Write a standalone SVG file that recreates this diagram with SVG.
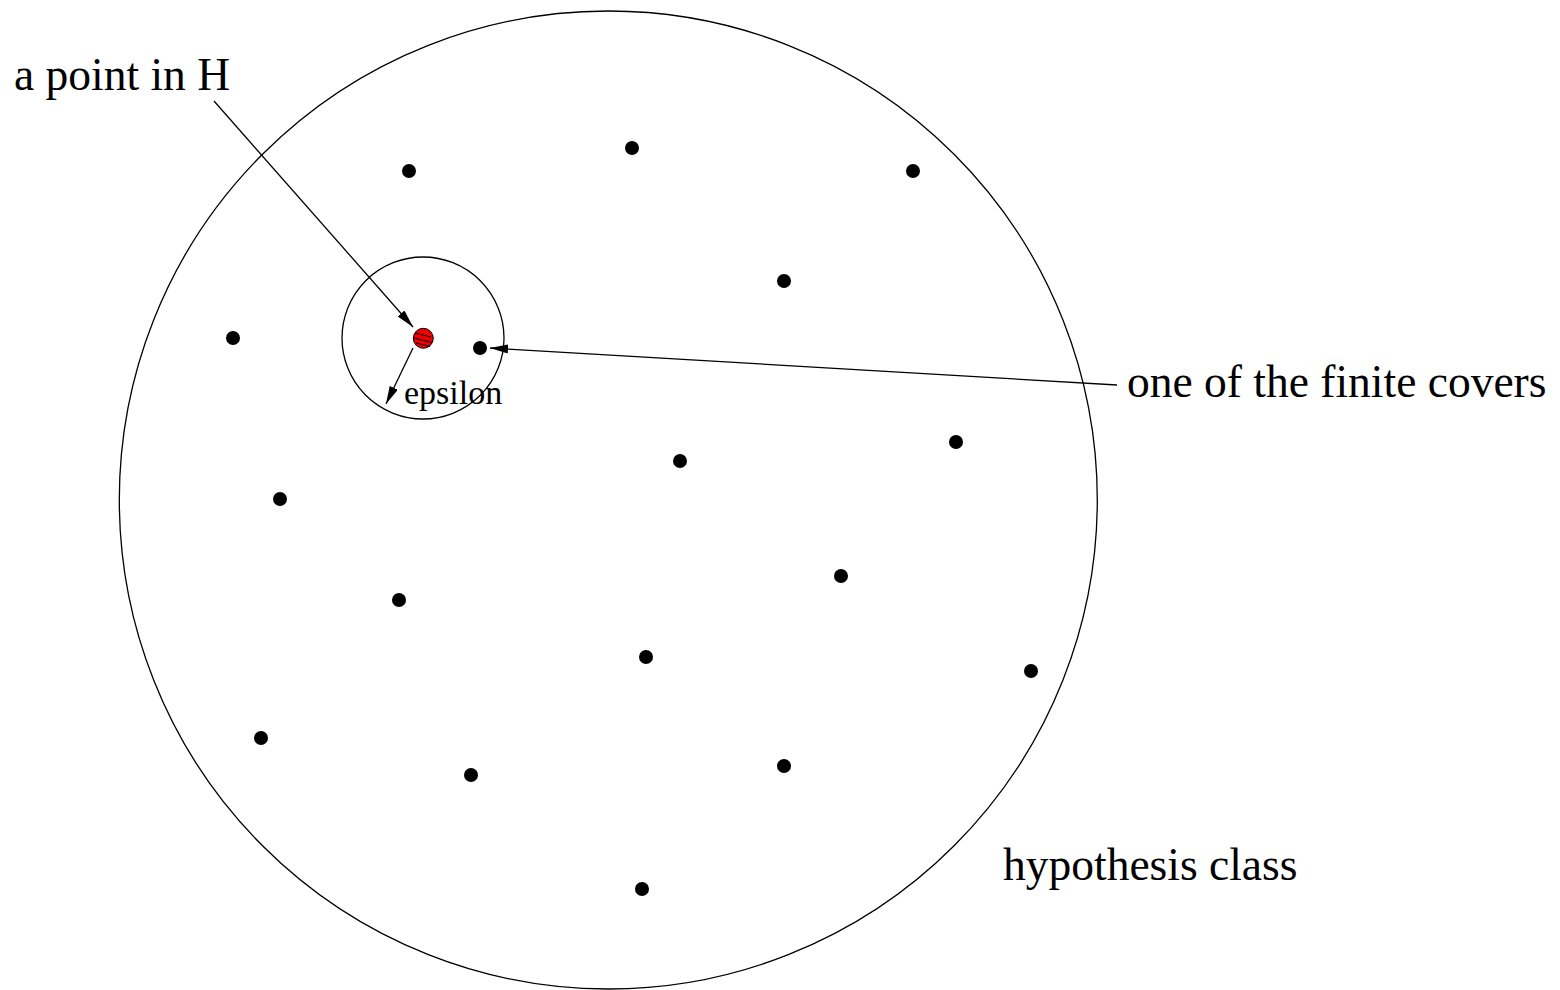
<svg xmlns="http://www.w3.org/2000/svg" width="1560" height="990" viewBox="0 0 1560 990">
<style>
.t{font-family:"Liberation Serif","Times New Roman",serif;fill:#000}
.ln{stroke:#000;stroke-width:1.3;fill:none}
.dot{fill:#000}
</style>
<defs>
<marker id="ah" markerUnits="userSpaceOnUse" markerWidth="20" markerHeight="10" refX="18" refY="4.5" orient="auto">
<path d="M0,0 L18,4.5 L0,9 z" fill="#000"/>
</marker>
</defs>
<rect width="1560" height="990" fill="#fff"/>
<g id="hypothesis-class">
<circle cx="608.3" cy="500" r="489" class="ln"/>
<text class="t" x="1003" y="880" font-size="45.5">hypothesis class</text>
</g>
<g id="epsilon-ball">
<circle cx="423" cy="338" r="81" class="ln"/>
<text class="t" x="404" y="404" font-size="34">epsilon</text>
</g>
<g id="point-in-H">
<circle cx="423.3" cy="338.3" r="10" fill="#e00" stroke="#000" stroke-width="1"/>
<path d="M415,333 L431,337 M414,338 L432,342.5 M416,343 L430,346.5" stroke="#000" stroke-width="1" fill="none"/>
</g>
<g id="covers">
<circle class="dot" cx="409" cy="171" r="7"/>
<circle class="dot" cx="632" cy="148" r="7"/>
<circle class="dot" cx="913" cy="171" r="7"/>
<circle class="dot" cx="784" cy="281" r="7"/>
<circle class="dot" cx="233" cy="338" r="7"/>
<circle class="dot" cx="480" cy="348" r="7"/>
<circle class="dot" cx="956" cy="442" r="7"/>
<circle class="dot" cx="680" cy="461" r="7"/>
<circle class="dot" cx="280" cy="499" r="7"/>
<circle class="dot" cx="841" cy="576" r="7"/>
<circle class="dot" cx="399" cy="600" r="7"/>
<circle class="dot" cx="646" cy="657" r="7"/>
<circle class="dot" cx="1031" cy="671" r="7"/>
<circle class="dot" cx="261" cy="738" r="7"/>
<circle class="dot" cx="471" cy="775" r="7"/>
<circle class="dot" cx="784" cy="766" r="7"/>
<circle class="dot" cx="642" cy="889" r="7"/>
</g>
<g id="label-point">
<text class="t" x="14" y="90" font-size="45.5">a point in H</text>
</g>
<g id="label-cover">
<text class="t" x="1127" y="397" font-size="45.5">one of the finite covers</text>
</g>
<g id="connectors">
<line class="ln" x1="214" y1="101" x2="413" y2="327" marker-end="url(#ah)"/>
<line class="ln" x1="1117" y1="385" x2="490" y2="348" marker-end="url(#ah)"/>
<line class="ln" x1="413" y1="348" x2="386" y2="404" marker-end="url(#ah)"/>
</g>
</svg>
